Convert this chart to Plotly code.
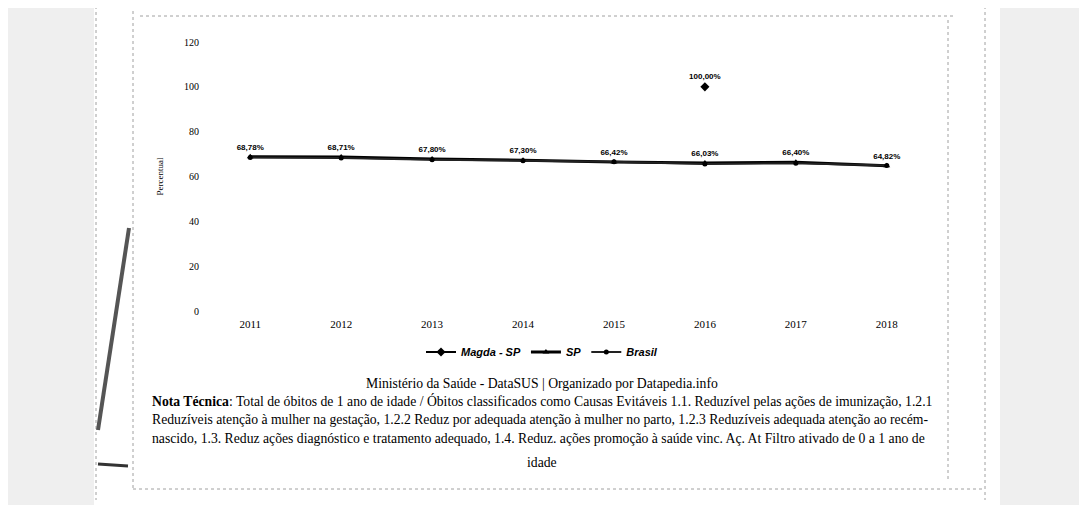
import plotly.graph_objects as go

# ---------------- data ----------------
years = ["2011", "2012", "2013", "2014", "2015", "2016", "2017", "2018"]
magda_sp = [None, None, None, None, None, 100.00, None, None]
sp = [68.78, 68.71, 67.80, 67.30, 66.42, 66.03, 66.40, 64.82]
brasil = [68.50, 68.20, 67.50, 67.00, 66.60, 65.60, 65.90, 64.90]
y_ticks = [0, 20, 40, 60, 80, 100, 120]

source_text = "Ministério da Saúde - DataSUS | Organizado por Datapedia.info"
note_lines = [
    "<b>Nota Técnica</b>: Total de óbitos de 1 ano de idade / Óbitos classificados como Causas Evitáveis 1.1. Reduzível pelas ações de imunização, 1.2.1",
    "Reduzíveis atenção à mulher na gestação, 1.2.2 Reduz por adequada atenção à mulher no parto, 1.2.3 Reduzíveis adequada atenção ao recém-",
    "nascido, 1.3. Reduz ações diagnóstico e tratamento adequado, 1.4. Reduz. ações promoção à saúde vinc. Aç. At Filtro ativado de 0 a 1 ano de",
]
note_last = "idade"

# ---------------- layout geometry ----------------
OFF = 8  # page body margin
W, H = 1087 - OFF, 505 - OFF
L, R, T, B = 210, 927, 42, 311  # plot area pixel edges (window coords)


def px(x):
    return (x - L) / (R - L)


def py(y):
    return (B - y) / (B - T)


def fmt(v):
    return "" if v is None else f"{v:.2f}%".replace(".", ",")


fig = go.Figure()

fig.add_trace(go.Scatter(
    x=years, y=magda_sp, name="Magda - SP", mode="lines+markers+text",
    line=dict(color="black", width=2), marker=dict(symbol="diamond", size=7, color="black"),
    text=[fmt(v) for v in magda_sp], textposition="top center",
    textfont=dict(family="Liberation Sans", size=8, color="black", weight="bold"),
))
fig.add_trace(go.Scatter(
    x=years, y=sp, name="SP", mode="lines+markers+text",
    line=dict(color="black", width=3), marker=dict(symbol="triangle-up", size=6, color="black"),
    text=[fmt(v) for v in sp], textposition="top center",
    textfont=dict(family="Liberation Sans", size=8, color="black", weight="bold"),
))
fig.add_trace(go.Scatter(
    x=years, y=brasil, name="Brasil", mode="lines+markers",
    line=dict(color="#222222", width=2), marker=dict(symbol="circle", size=5, color="black"),
))

shapes = []
# scanned page decorations (light speckled margins and dotted borders)
shapes.append(dict(type="rect", xref="paper", yref="paper", x0=px(0), x1=px(94), y0=py(520), y1=py(0),
                   fillcolor="#efefef", line=dict(width=0), layer="below"))
shapes.append(dict(type="rect", xref="paper", yref="paper", x0=px(1000), x1=px(1100), y0=py(520), y1=py(0),
                   fillcolor="#efefef", line=dict(width=0), layer="below"))
for (x0, y0, x1, y1) in [(96, 0, 96, 500), (133, 5, 133, 490), (985, 0, 985, 500),
                         (140, 16, 955, 16), (133, 489, 985, 489), (948, 20, 948, 480)]:
    shapes.append(dict(type="line", xref="paper", yref="paper", x0=px(x0), x1=px(x1), y0=py(y0), y1=py(y1),
                       line=dict(color="#a0a0a0", width=1, dash="dot"), layer="below"))
shapes.append(dict(type="line", xref="paper", yref="paper", x0=px(129), y0=py(228), x1=px(98), y1=py(430),
                   line=dict(color="#555555", width=4)))
shapes.append(dict(type="line", xref="paper", yref="paper", x0=px(98), y0=py(464), x1=px(128), y1=py(466),
                   line=dict(color="#333333", width=3)))

FS = 13.7
annotations = [
    dict(text=source_text, xref="paper", yref="paper", x=px(542), y=py(384), showarrow=False,
         xanchor="center", yanchor="middle", font=dict(family="Liberation Serif", size=FS, color="black")),
]
for i, line in enumerate(note_lines):
    annotations.append(dict(text=line, xref="paper", yref="paper", x=px(150), y=py(401 + 18.5 * i),
                            showarrow=False, xanchor="left", yanchor="middle",
                            font=dict(family="Liberation Serif", size=FS, color="black")))
annotations.append(dict(text=note_last, xref="paper", yref="paper", x=px(542), y=py(462), showarrow=False,
                        xanchor="center", yanchor="middle",
                        font=dict(family="Liberation Serif", size=FS, color="black")))

fig.update_layout(
    width=W, height=H, autosize=False,
    margin=dict(l=L - OFF, r=W - (R - OFF), t=T - OFF, b=H - (B - OFF), pad=0),
    paper_bgcolor="white", plot_bgcolor="white",
    showlegend=True,
    legend=dict(orientation="h", x=px(542), xanchor="center", y=py(352), yanchor="middle",
                font=dict(family="Liberation Sans", size=11, color="black", weight="bold", style="italic"),
                itemwidth=30, bgcolor="rgba(0,0,0,0)", traceorder="normal"),
    shapes=shapes, annotations=annotations,
    xaxis=dict(type="category", showgrid=False, zeroline=False, showline=False, ticks="",
               ticklabelstandoff=5,
               tickfont=dict(family="Liberation Serif", size=11, color="black")),
    yaxis=dict(range=[0, 120], tickvals=y_ticks, showgrid=False, zeroline=False, showline=False, ticks="",
               ticklabelstandoff=10,
               tickfont=dict(family="Liberation Serif", size=10, color="black"),
               title=dict(text="Percentual", standoff=18,
                          font=dict(family="Liberation Serif", size=9, color="black"))),
)

fig.write_html("out.html")
